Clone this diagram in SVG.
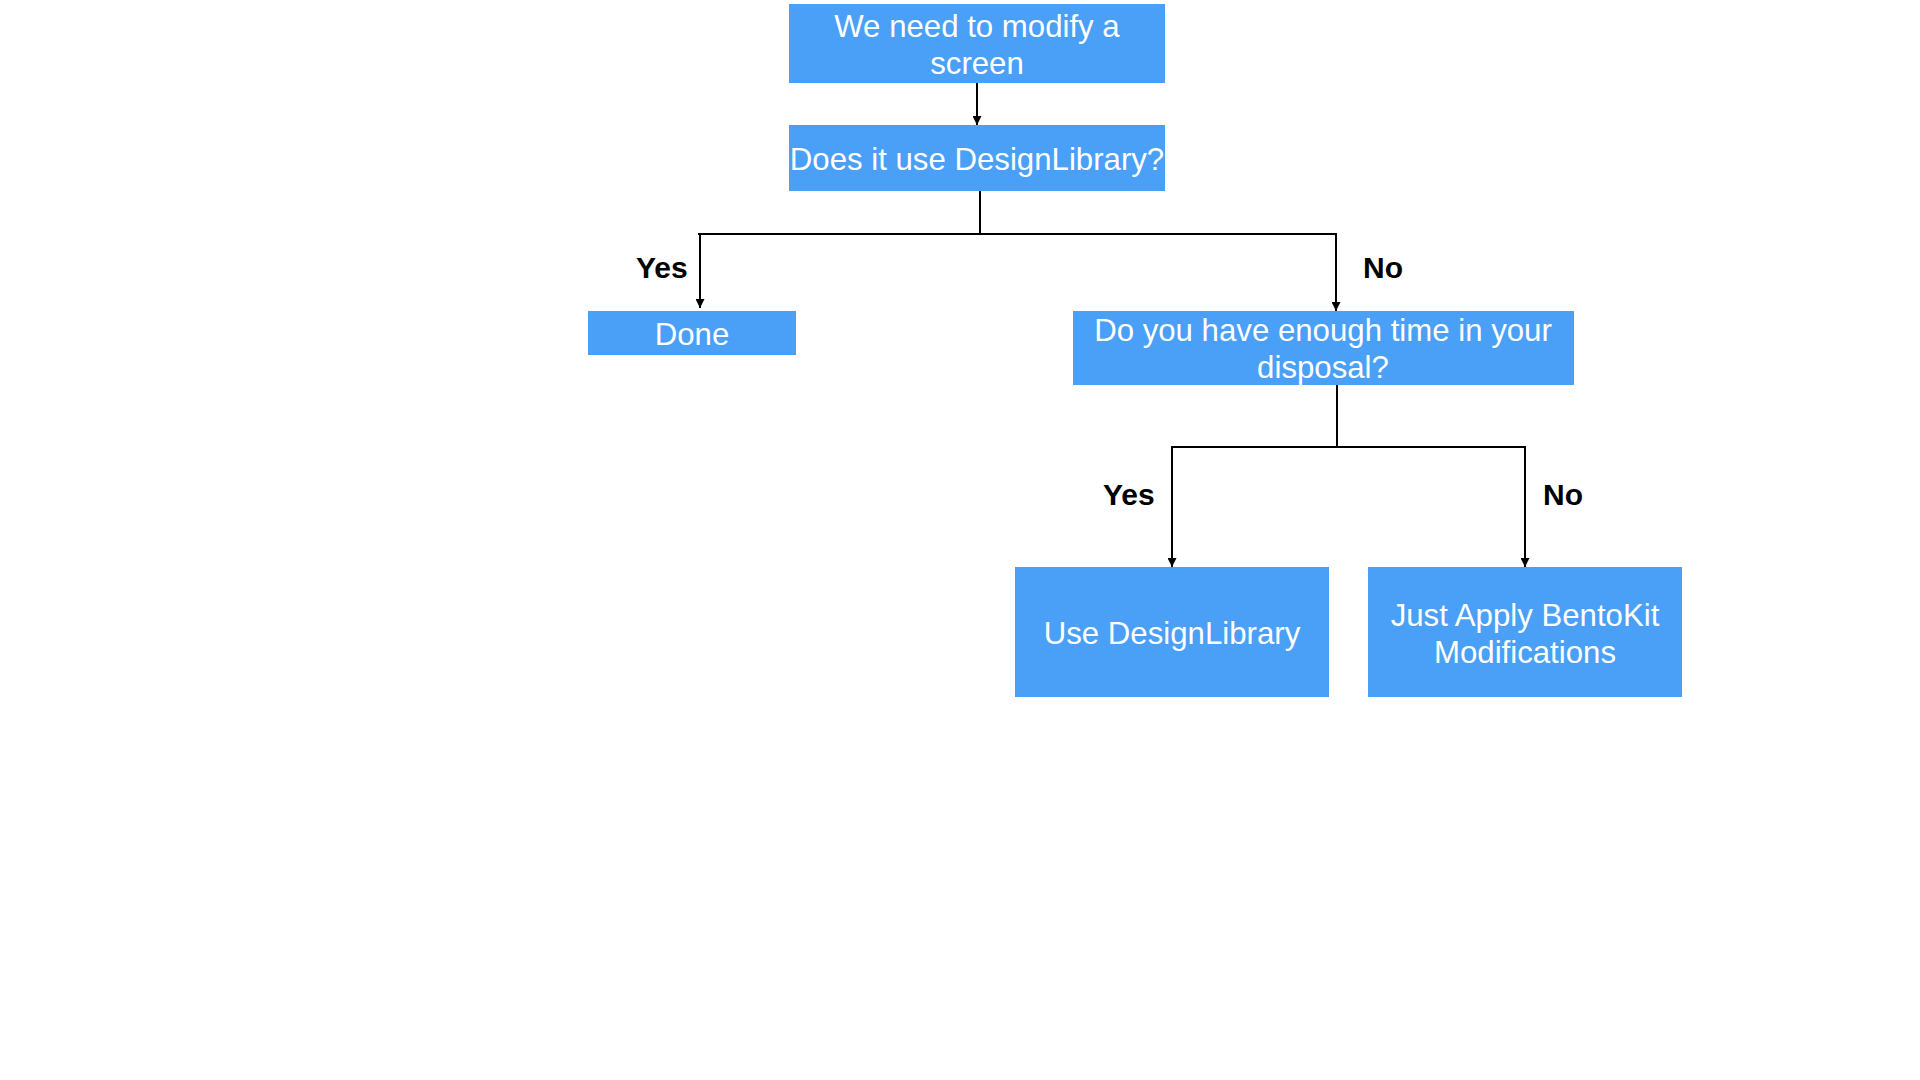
<svg xmlns="http://www.w3.org/2000/svg" width="1920" height="1080" viewBox="0 0 1920 1080">
<style>
.box{fill:#4a9ff7;}
.t{font-family:"Liberation Sans",Arial,Helvetica,sans-serif;font-size:31.2px;fill:#ffffff;text-anchor:middle;}
.lbl{font-family:"Liberation Sans",Arial,Helvetica,sans-serif;font-size:30px;font-weight:bold;fill:#000000;}
.c{stroke:#000000;stroke-width:2;fill:none;}
</style>
<defs>
<marker id="ah" viewBox="0 0 10 10" refX="10" refY="5" markerWidth="4.5" markerHeight="4.5" markerUnits="strokeWidth" orient="auto">
<path d="M0,0 L10,5 L0,10 z" fill="#000000"/>
</marker>
</defs>
<rect width="1920" height="1080" fill="#ffffff"/>
<g id="connectors">
<line class="c" x1="977" y1="83" x2="977" y2="125" marker-end="url(#ah)"/>
<line class="c" x1="980" y1="191" x2="980" y2="234"/>
<line class="c" x1="698" y1="234" x2="1336" y2="234"/>
<line class="c" x1="700" y1="234" x2="700" y2="308" marker-end="url(#ah)"/>
<line class="c" x1="1336" y1="233" x2="1336" y2="311" marker-end="url(#ah)"/>
<line class="c" x1="1337" y1="385" x2="1337" y2="447"/>
<line class="c" x1="1171" y1="447" x2="1525" y2="447"/>
<line class="c" x1="1172" y1="446" x2="1172" y2="567" marker-end="url(#ah)"/>
<line class="c" x1="1525" y1="446" x2="1525" y2="567" marker-end="url(#ah)"/>
</g>
<g id="labels">
<text class="lbl" x="636" y="278">Yes</text>
<text class="lbl" x="1363" y="278">No</text>
<text class="lbl" x="1103" y="505">Yes</text>
<text class="lbl" x="1543" y="505">No</text>
</g>
<g id="n1">
<rect class="box" x="789" y="4" width="376" height="79"/>
<text class="t" x="977" y="37">We need to modify a</text>
<text class="t" x="977" y="74">screen</text>
</g>
<g id="n2">
<rect class="box" x="789" y="125" width="376" height="66"/>
<text class="t" x="977" y="170">Does it use DesignLibrary?</text>
</g>
<g id="n3">
<rect class="box" x="588" y="311" width="208" height="44"/>
<text class="t" x="692" y="345">Done</text>
</g>
<g id="n4">
<rect class="box" x="1073" y="311" width="501" height="74"/>
<text class="t" x="1323" y="341">Do you have enough time in your</text>
<text class="t" x="1323" y="378">disposal?</text>
</g>
<g id="n5">
<rect class="box" x="1015" y="567" width="314" height="130"/>
<text class="t" x="1172" y="644">Use DesignLibrary</text>
</g>
<g id="n6">
<rect class="box" x="1368" y="567" width="314" height="130"/>
<text class="t" x="1525" y="626">Just Apply BentoKit</text>
<text class="t" x="1525" y="663">Modifications</text>
</g>
</svg>
